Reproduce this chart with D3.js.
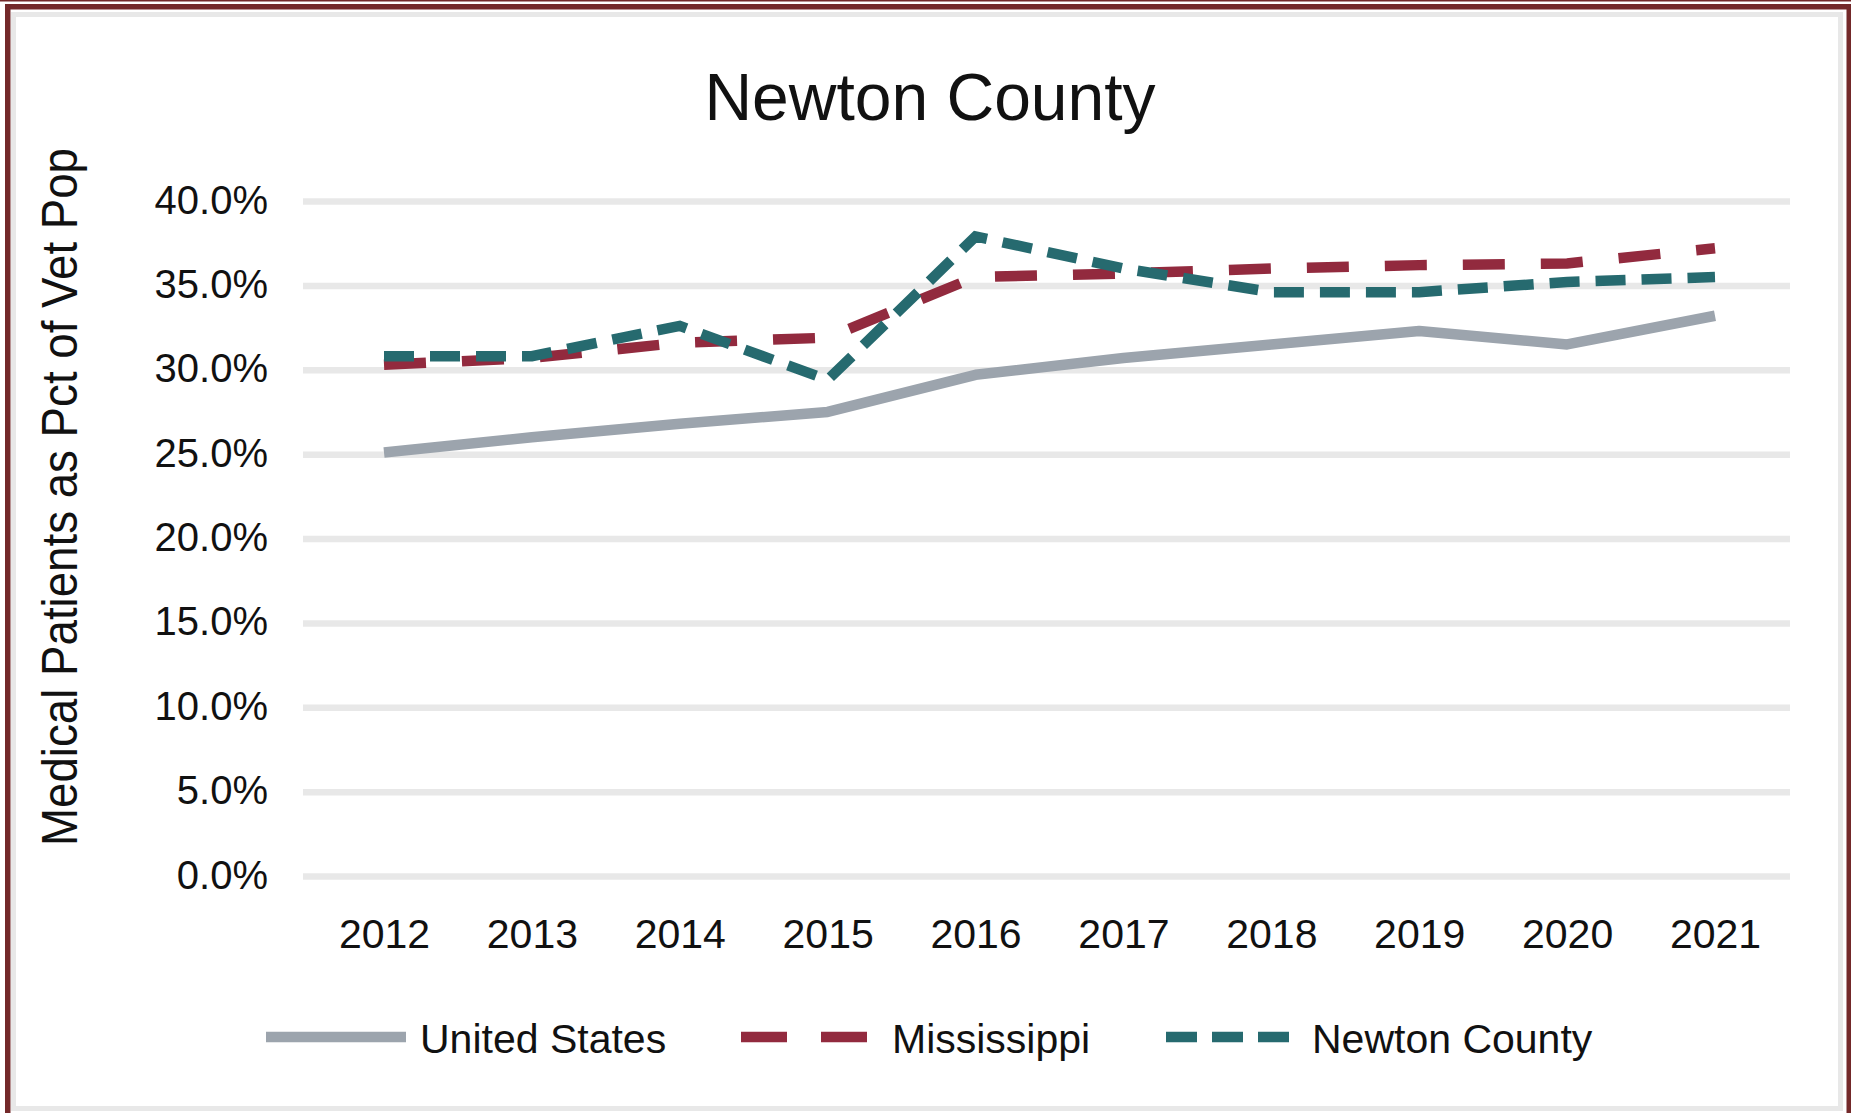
<!DOCTYPE html>
<html>
<head>
<meta charset="utf-8">
<script src="https://cdn.jsdelivr.net/npm/d3@7"></script>
<style>
  html, body { margin: 0; padding: 0; background: #fff; }
  svg { display: block; }
  text { font-family: "Liberation Sans", Arial, sans-serif; fill: #111; }
</style>
</head>
<body>
<svg id="chart" width="1851" height="1113"></svg>
<script>
// data
const years = ["2012", "2013", "2014", "2015", "2016", "2017", "2018", "2019", "2020", "2021"];
const unitedStates = [25.1, 26.0, 26.8, 27.5, 29.7, 30.7, 31.5, 32.3, 31.5, 33.2];
const mississippi = [30.3, 30.7, 31.6, 31.9, 35.5, 35.7, 36.0, 36.2, 36.3, 37.2];
const newtonCounty = [30.8, 30.8, 32.6, 29.4, 37.9, 36.0, 34.6, 34.6, 35.2, 35.5];
const yTicks = [0, 5, 10, 15, 20, 25, 30, 35, 40];
const seriesNames = ["United States", "Mississippi", "Newton County"];

// layout
const W = 1851, H = 1113;
const plot = { left: 303, right: 1790, top: 201, bottom: 876 };
const firstX = 384, lastX = 1715;

const colors = { us: "#9ca4ad", ms: "#922a3e", nc: "#266a6f", frame: "#73292a" };

const svg = d3.select("#chart");

// frame
svg.append("rect").attr("x", 0).attr("y", 0).attr("width", W).attr("height", 1.5).attr("fill", colors.frame);
svg.append("rect").attr("x", 5).attr("y", 4).attr("width", W - 5).attr("height", 5.5).attr("fill", colors.frame);
svg.append("rect").attr("x", 5).attr("y", 4).attr("width", 5.5).attr("height", H).attr("fill", colors.frame);
svg.append("rect").attr("x", W - 4.5).attr("y", 4).attr("width", 4.5).attr("height", H).attr("fill", colors.frame);
// inner light border
svg.append("rect").attr("x", 13.5).attr("y", 14.5).attr("width", 1827).attr("height", 1094)
  .attr("fill", "none").attr("stroke", "#e8e8e8").attr("stroke-width", 5);

// scales
const x = d3.scalePoint().domain(years).range([firstX, lastX]);
const y = d3.scaleLinear().domain([0, 40]).range([plot.bottom, plot.top]);

// y axis with gridlines
const yAxis = svg.append("g")
  .attr("transform", `translate(${plot.left},0)`)
  .call(d3.axisLeft(y).tickValues(yTicks)
    .tickSize(-(plot.right - plot.left))
    .tickPadding(35)
    .tickFormat(d => d.toFixed(1) + "%"));
yAxis.select(".domain").remove();
yAxis.selectAll(".tick line").attr("stroke", "#e8e8e8").attr("stroke-width", 6.5);
yAxis.selectAll(".tick text")
  .style("font-family", "'Liberation Sans', Arial, sans-serif")
  .style("font-size", "40px").attr("fill", "#111").attr("dy", "0.3em");

// x axis labels
const xAxis = svg.append("g")
  .attr("transform", `translate(0,${plot.bottom})`)
  .call(d3.axisBottom(x).tickSize(0).tickPadding(0));
xAxis.select(".domain").remove();
xAxis.selectAll(".tick text")
  .style("font-family", "'Liberation Sans', Arial, sans-serif")
  .style("font-size", "41px").attr("fill", "#111")
  .attr("y", 72).attr("dy", 0);

// lines
const line = d3.line().x((d, i) => x(years[i])).y(d => y(d));

svg.append("path").datum(unitedStates)
  .attr("d", line).attr("fill", "none")
  .attr("stroke", colors.us).attr("stroke-width", 10.5).attr("stroke-linejoin", "round");

svg.append("path").datum(mississippi)
  .attr("d", line).attr("fill", "none")
  .attr("stroke", colors.ms).attr("stroke-width", 10.5)
  .attr("stroke-dasharray", "42 36");

svg.append("path").datum(newtonCounty)
  .attr("d", line).attr("fill", "none")
  .attr("stroke", colors.nc).attr("stroke-width", 10.5)
  .attr("stroke-dasharray", "30 16");

// title
svg.append("text")
  .attr("x", 930).attr("y", 120)
  .attr("text-anchor", "middle")
  .style("font-size", "66px").attr("fill", "#000")
  .text("Newton County");

// y axis title
svg.append("text")
  .attr("transform", "translate(77,497) rotate(-90)")
  .attr("text-anchor", "middle")
  .attr("textLength", 698).attr("lengthAdjust", "spacingAndGlyphs")
  .style("font-size", "50px").attr("fill", "#000")
  .text("Medical Patients as Pct of Vet Pop");

// legend
const legendY = 1037, legendBase = 1053;
const legendItems = [
  { name: seriesNames[0], color: colors.us, x0: 266, x1: 406, dash: null, tx: 420 },
  { name: seriesNames[1], color: colors.ms, x0: 741, x1: 867, dash: "46 34", tx: 892 },
  { name: seriesNames[2], color: colors.nc, x0: 1166, x1: 1289, dash: "31 15", tx: 1312 }
];
legendItems.forEach(it => {
  const l = svg.append("line")
    .attr("x1", it.x0).attr("x2", it.x1)
    .attr("y1", legendY).attr("y2", legendY)
    .attr("stroke", it.color).attr("stroke-width", 10.5);
  if (it.dash) l.attr("stroke-dasharray", it.dash);
  svg.append("text")
    .attr("x", it.tx).attr("y", legendBase)
    .style("font-size", "41px").attr("fill", "#111")
    .text(it.name);
});
</script>
</body>
</html>
